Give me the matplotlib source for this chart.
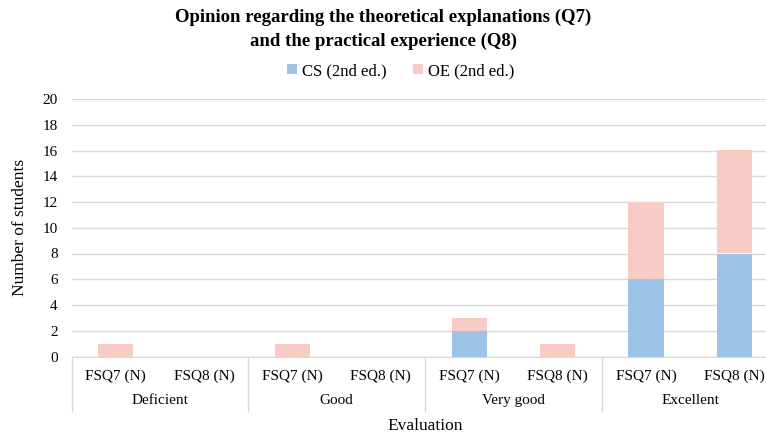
import matplotlib
matplotlib.use("Agg")
import matplotlib.pyplot as plt
import matplotlib.transforms as mtransforms
import numpy as np

plt.rcParams['font.family'] = ['Liberation Serif', 'DejaVu Serif']

# data
groups = ['Deficient', 'Good', 'Very good', 'Excellent']
questions = ['FSQ7 (N)', 'FSQ8 (N)']
tick_labels = [q for g in groups for q in questions]
cs_values = [0, 0, 0, 0, 2, 0, 6, 8]
oe_values = [1, 0, 1, 0, 1, 1, 6, 8]

blue = '#9DC3E6'
pink = '#F8CBC4'
grid_col = '#D9D9D9'

fig = plt.figure(figsize=(7.66, 4.36), dpi=100)
# plot area runs a bit past the right edge, like the original
ax = fig.add_axes([71.5 / 766, 1 - 356.5 / 436, 707 / 766, 257.5 / 436])

x = np.arange(len(tick_labels))
ax.bar(x, cs_values, width=0.4, color=blue, label='CS (2nd ed.)', zorder=3)
ax.bar(x, oe_values, width=0.4, bottom=cs_values, color=pink,
       label='OE (2nd ed.)', zorder=3)

ax.set_ylim(0, 20)
ax.set_xlim(-0.5, len(tick_labels) - 0.5)
ax.set_yticks(range(0, 21, 2))
ax.yaxis.grid(True, color=grid_col, linewidth=1)
ax.set_axisbelow(True)
for s in ['top', 'right', 'left']:
    ax.spines[s].set_visible(False)
ax.spines['bottom'].set_color(grid_col)
ax.tick_params(axis='both', length=0, labelsize=11)
ax.tick_params(axis='y', pad=10)
ax.set_xticks(x)
ax.set_xticklabels(tick_labels)
ax.tick_params(axis='x', pad=9.5)

# second level of category labels
trans = mtransforms.blended_transform_factory(ax.transData, ax.transAxes)
for i in range(len(groups) + 1):
    ax.plot([i * 2 - 0.5, i * 2 - 0.5], [0, -0.21], color=grid_col,
            linewidth=1, transform=trans, clip_on=False)
for i, g in enumerate(groups):
    ax.text(i * 2 + 0.5, -0.17, g, transform=trans, ha='center',
            va='center', fontsize=11)

ax.set_xlabel('Evaluation', fontsize=12.5, labelpad=25)
ax.set_ylabel('Number of students', fontsize=12.5, labelpad=10)

fig.text(383 / 766, 1 - 9 / 436,
         'Opinion regarding the theoretical explanations (Q7)\nand the practical experience (Q8)',
         ha='center', va='top', fontsize=13.5, fontweight='bold', linespacing=1.45)
ax.legend(loc='center', bbox_to_anchor=(401 / 766, 1 - 71 / 436),
          bbox_transform=fig.transFigure, ncol=2, frameon=False,
          fontsize=12, handlelength=0.6, handleheight=0.6,
          handletextpad=0.3, columnspacing=1.6)

fig.savefig('out.png', dpi=100)
